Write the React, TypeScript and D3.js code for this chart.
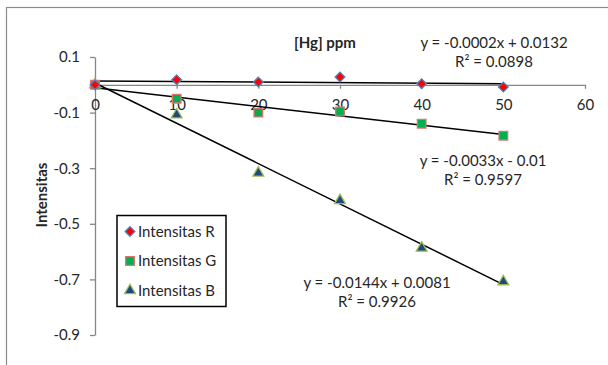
import { useEffect, useRef } from "react";
import * as d3 from "d3";

const concentrations = [0, 10, 20, 30, 40, 50];
const intensitasR = [0.0, 0.018, 0.01, 0.028, 0.004, -0.008];
const intensitasG = [0.0, -0.05, -0.1, -0.096, -0.14, -0.183];
const intensitasB = [0.0, -0.108, -0.317, -0.416, -0.587, -0.708];

const xTicks = [0, 10, 20, 30, 40, 50, 60];
const yTicks = [0.1, -0.1, -0.3, -0.5, -0.7, -0.9];

const equationR = ["y = -0.0002x + 0.0132", "R² = 0.0898"];
const equationG = ["y = -0.0033x - 0.01", "R² = 0.9597"];
const equationB = ["y = -0.0144x + 0.0081", "R² = 0.9926"];

const seriesNames = ["Intensitas R", "Intensitas G", "Intensitas B"];

// least squares fit, used for the trendlines
function fit(xs: number[], ys: number[]) {
  const mx = d3.mean(xs) || 0;
  const my = d3.mean(ys) || 0;
  let sxy = 0;
  let sxx = 0;
  xs.forEach((x, i) => {
    sxy += (x - mx) * (ys[i] - my);
    sxx += (x - mx) * (x - mx);
  });
  const slope = sxy / sxx;
  return { slope, intercept: my - slope * mx };
}

const App = () => {
  const svgRef = useRef<SVGSVGElement | null>(null);

  useEffect(() => {
    if (!svgRef.current) return;
    const svg = d3.select(svgRef.current);
    svg.selectAll("*").remove();

    const font = "Lato, 'Open Sans', sans-serif";
    const fs = 15;

    const x = d3.scaleLinear().domain([0, 60]).range([95, 585]);
    const y = d3.scaleLinear().domain([0.1, -0.9]).range([57, 335]);

    // chart frame (runs off the right and bottom edges)
    svg
      .append("rect")
      .attr("x", 6.5)
      .attr("y", 7.5)
      .attr("width", 640)
      .attr("height", 400)
      .attr("fill", "none")
      .attr("stroke", "#8c8c8c")
      .attr("stroke-width", 1.2);

    // y axis (plain hyphen minus like the original)
    const yAxis = svg
      .append("g")
      .attr("transform", `translate(${x(0)},0)`)
      .call(
        d3
          .axisLeft(y)
          .tickValues(yTicks)
          .tickSize(5)
          .tickSizeOuter(0)
          .tickFormat((d) => (+d).toFixed(1))
      );
    yAxis.select(".domain").attr("stroke", "#868686").attr("stroke-width", 1.3);
    yAxis.selectAll(".tick line").attr("stroke", "#868686").attr("stroke-width", 1.3);
    yAxis
      .selectAll(".tick text")
      .attr("x", -15)
      .attr("font-size", fs)
      .attr("font-family", font)
      .attr("fill", "#262626");

    // x axis at y = 0
    const xAxis = svg
      .append("g")
      .attr("transform", `translate(0,${y(0)})`)
      .call(d3.axisBottom(x).tickValues(xTicks).tickSize(4).tickSizeOuter(0));
    xAxis.select(".domain").attr("stroke", "#868686").attr("stroke-width", 1.3);
    xAxis.selectAll(".tick line").attr("stroke", "#868686").attr("stroke-width", 1.3);
    xAxis
      .selectAll(".tick text")
      .attr("y", 15)
      .attr("font-size", fs)
      .attr("font-family", font)
      .attr("fill", "#262626");

    // titles
    svg
      .append("text")
      .attr("x", 325)
      .attr("y", 48)
      .attr("text-anchor", "middle")
      .attr("font-size", fs)
      .attr("font-weight", "bold")
      .attr("font-family", font)
      .attr("fill", "#262626")
      .text("[Hg] ppm");

    svg
      .append("text")
      .attr("transform", "translate(47,195) rotate(-90)")
      .attr("text-anchor", "middle")
      .attr("font-size", fs)
      .attr("font-weight", "bold")
      .attr("font-family", font)
      .attr("fill", "#262626")
      .text("Intensitas");

    // trendlines
    const allSeries = [intensitasR, intensitasG, intensitasB];
    allSeries.forEach((ys) => {
      const f = fit(concentrations, ys);
      const x0 = concentrations[0];
      const x1 = concentrations[concentrations.length - 1];
      svg
        .append("line")
        .attr("x1", x(x0))
        .attr("y1", y(f.intercept + f.slope * x0))
        .attr("x2", x(x1))
        .attr("y2", y(f.intercept + f.slope * x1))
        .attr("stroke", "#000")
        .attr("stroke-width", 1.5);
    });

    const diamond = d3.symbol().type(d3.symbolDiamond2).size(60);
    const square = d3.symbol().type(d3.symbolSquare2).size(95);
    const triangle = d3.symbol().type(d3.symbolTriangle2).size(85);

    const markers = [
      { data: intensitasR, path: diamond(), fill: "#ff0000", stroke: "#4f81bd" },
      { data: intensitasG, path: square(), fill: "#00b050", stroke: "#d9766f" },
      { data: intensitasB, path: triangle(), fill: "#1f497d", stroke: "#9bbb59" },
    ];

    // draw B, then G, then R on top
    [markers[2], markers[1], markers[0]].forEach((m) => {
      svg
        .append("g")
        .selectAll("path")
        .data(m.data)
        .enter()
        .append("path")
        .attr("d", m.path)
        .attr("transform", (d, i) => `translate(${x(concentrations[i])},${y(d)})`)
        .attr("fill", m.fill)
        .attr("stroke", m.stroke)
        .attr("stroke-width", 1.3);
    });

    // equation labels
    const labels = [
      { lines: equationR, cx: 494, by: 48 },
      { lines: equationG, cx: 483, by: 166 },
      { lines: equationB, cx: 377, by: 288 },
    ];
    labels.forEach((l) => {
      l.lines.forEach((t, i) => {
        svg
          .append("text")
          .attr("x", l.cx)
          .attr("y", l.by + i * 19)
          .attr("text-anchor", "middle")
          .attr("font-size", fs)
          .attr("font-family", font)
          .attr("fill", "#262626")
          .text(t);
      });
    });

    // legend
    const legend = svg.append("g").attr("transform", "translate(117,215.5)");
    legend
      .append("rect")
      .attr("width", 109)
      .attr("height", 91)
      .attr("fill", "#fff")
      .attr("stroke", "#000")
      .attr("stroke-width", 1.5);
    seriesNames.forEach((name, i) => {
      const row = legend.append("g").attr("transform", `translate(0,${16 + i * 29.5})`);
      row
        .append("path")
        .attr("d", markers[i].path)
        .attr("transform", "translate(13,0)")
        .attr("fill", markers[i].fill)
        .attr("stroke", markers[i].stroke)
        .attr("stroke-width", 1.3);
      row
        .append("text")
        .attr("x", 21)
        .attr("y", 5)
        .attr("font-size", fs)
        .attr("font-family", font)
        .attr("fill", "#262626")
        .text(name);
    });
  }, []);

  return (
    <svg
      ref={svgRef}
      width={608}
      height={365}
      style={{ position: "absolute", left: 0, top: 0, background: "#fff" }}
    ></svg>
  );
};

export default App;
